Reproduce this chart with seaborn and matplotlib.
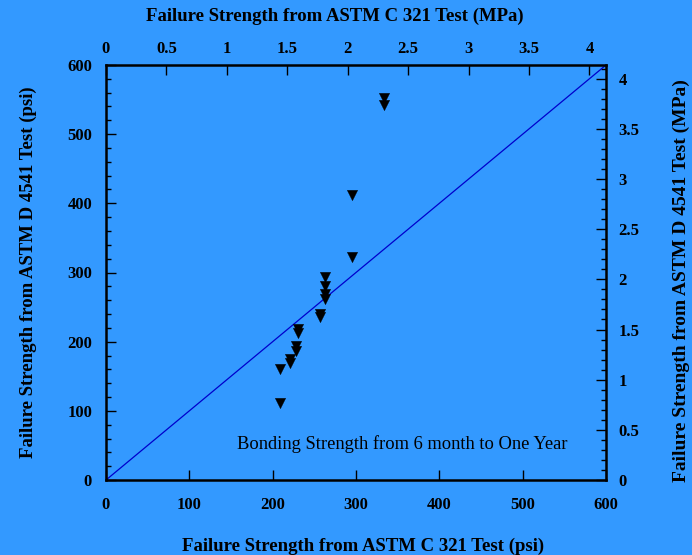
import numpy as np
import pandas as pd
import matplotlib
matplotlib.use("Agg")
import matplotlib.pyplot as plt
import seaborn as sns
from matplotlib.ticker import MultipleLocator

# Failure strength pairs (psi)
c321_psi = [333, 333, 295, 295, 263, 263, 263, 263, 257, 257,
            230, 230, 228, 228, 221, 221, 209, 209]
d4541_psi = [553, 542, 412, 323, 294, 280, 269, 261, 240, 235,
             218, 213, 194, 186, 175, 169, 161, 112]

# equality line
line_x = [0, 600]
line_y = [0, 600]

mpa_ticks = [0, 0.5, 1, 1.5, 2, 2.5, 3, 3.5, 4]
mpa_labels = ["0", "0.5", "1", "1.5", "2", "2.5", "3", "3.5", "4"]

PSI_PER_MPA = 145.038
bg = "#3399FF"

sns.set_style("ticks")
plt.rcParams['font.family'] = ['Liberation Serif', 'DejaVu Serif']
plt.rcParams.update({"text.color": "black", "axes.labelcolor": "black",
                     "xtick.color": "black", "ytick.color": "black"})

df = pd.DataFrame({"c321": c321_psi, "d4541": d4541_psi})
line_df = pd.DataFrame({"x": line_x, "y": line_y})

fig = plt.figure(figsize=(6.92, 5.55), dpi=100, facecolor=bg)
ax = fig.add_axes([106 / 692, 75 / 555, 500 / 692, 415 / 555])
ax.set_facecolor(bg)

sns.lineplot(data=line_df, x="x", y="y", ax=ax, color="#0000CC", linewidth=0.9)
sns.scatterplot(data=df, x="c321", y="d4541", ax=ax, marker="v", s=55,
                color="black", edgecolor="black", linewidth=0.3, zorder=3)

ax.set_xlim(0, 600)
ax.set_ylim(0, 600)
ax.xaxis.set_major_locator(MultipleLocator(100))
ax.yaxis.set_major_locator(MultipleLocator(100))
ax.yaxis.set_minor_locator(MultipleLocator(20))

for s in ax.spines.values():
    s.set_linewidth(1.8)
    s.set_color("black")

tick_fs = 12
label_fs = 13.5

ax.tick_params(axis="x", which="major", direction="in", length=7, width=1,
               labelsize=tick_fs, pad=12)
ax.tick_params(axis="y", which="major", direction="in", length=7, width=1,
               labelsize=tick_fs, pad=10)
ax.tick_params(axis="y", which="minor", direction="in", length=3.5, width=1)
for lab in ax.get_xticklabels() + ax.get_yticklabels():
    lab.set_fontweight("bold")

ax.set_xlabel("Failure Strength from ASTM C 321 Test (psi)", fontsize=label_fs,
              fontweight="bold", labelpad=18)
ax.xaxis.label.set_x(0.514)
ax.set_ylabel("Failure Strength from ASTM D 4541 Test (psi)", fontsize=label_fs,
              fontweight="bold", labelpad=22)

# MPa axes on top and right
top = ax.secondary_xaxis("top", functions=(lambda v: v / PSI_PER_MPA,
                                           lambda v: v * PSI_PER_MPA))
top.set_xticks(mpa_ticks, mpa_labels)
top.tick_params(axis="x", direction="in", length=7, width=1,
                labelsize=tick_fs, pad=6)
top.set_xlabel("Failure Strength from ASTM C 321 Test (MPa)", fontsize=label_fs,
               fontweight="bold", labelpad=14)
top.xaxis.label.set_x(0.458)

right = ax.secondary_yaxis("right", functions=(lambda v: v / PSI_PER_MPA,
                                               lambda v: v * PSI_PER_MPA))
right.set_yticks(mpa_ticks, mpa_labels)
right.yaxis.set_minor_locator(MultipleLocator(0.1))
right.tick_params(axis="y", which="major", direction="in", length=7, width=1,
                  labelsize=tick_fs, pad=9)
right.tick_params(axis="y", which="minor", direction="in", length=3.5, width=1)
right.set_ylabel("Failure Strength from ASTM D 4541 Test (MPa)", fontsize=14,
                 fontweight="bold", labelpad=24)
right.yaxis.label.set_y(0.48)
for sec in (top, right):
    sec.spines[:].set_visible(False)
for lab in top.get_xticklabels() + right.get_yticklabels():
    lab.set_fontweight("bold")

ax.text(355, 52, "Bonding Strength from 6 month to One Year", fontsize=13.3,
        ha="center", va="center", color="black")

fig.savefig("out.png", dpi=100, facecolor=bg)
